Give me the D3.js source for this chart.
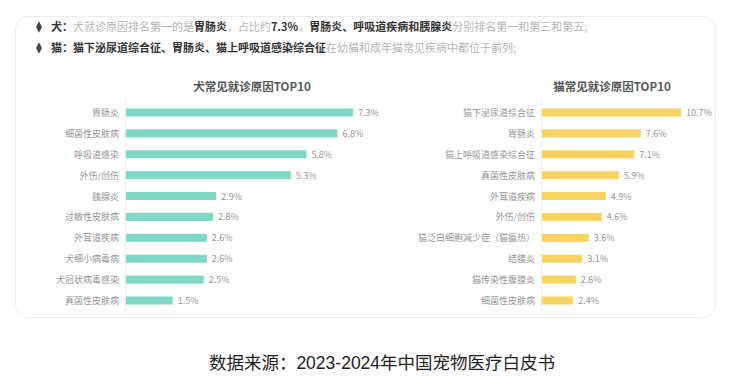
<!DOCTYPE html>
<html><head><meta charset="utf-8">
<script src="https://cdn.jsdelivr.net/npm/d3@7"></script>
<style>
html,body{margin:0;padding:0;background:#fff;}
svg{display:block;font-family:"Noto Sans CJK SC","Noto Sans",sans-serif;}
</style></head>
<body><svg id="c" width="730" height="388"></svg>
<script>
const dogCategories = ["胃肠炎","细菌性皮肤病","呼吸道感染","外伤/创伤","胰腺炎","过敏性皮肤病","外耳道疾病","犬细小病毒病","犬冠状病毒感染","真菌性皮肤病"];
const dogValues = [7.3,6.8,5.8,5.3,2.9,2.8,2.6,2.6,2.5,1.5];
const catCategories = ["猫下泌尿道综合征","胃肠炎","猫上呼吸道感染综合征","真菌性皮肤病","外耳道疾病","外伤/创伤","猫泛白细胞减少症（猫瘟热）","结膜炎","猫传染性腹膜炎","细菌性皮肤病"];
const catValues = [10.7,7.6,7.1,5.9,4.9,4.6,3.6,3.1,2.6,2.4];
const titles = ["犬常见就诊原因TOP10","猫常见就诊原因TOP10"];
const bulletLines = [
  [["犬：",1],["犬就诊原因排名第一的是",0],["胃肠炎",1],["，占比约",0],["7.3%",1],["，",0],["胃肠炎、呼吸道疾病和胰腺炎",1],["分别排名第一和第三和第五;",0]],
  [["猫：",1],["猫下泌尿道综合征、胃肠炎、猫上呼吸道感染综合征",1],["在幼猫和成年猫常见疾病中都位于前列;",0]]
];
const sourceText = "数据来源：2023-2024年中国宠物医疗白皮书";

const svg = d3.select("#c");
// card
svg.append("rect").attr("x",15.5).attr("y",16.5).attr("width",700).attr("height",301)
  .attr("rx",13).attr("fill","#fff").attr("stroke","#ececec");

// bullets
bulletLines.forEach((line,i)=>{
  const y = 31 + i*21;
  svg.append("path").attr("d",d3.symbol(d3.symbolDiamond,30)())
    .attr("transform",`translate(39,${y-4}) scale(1,1.15)`).attr("fill","#444");
  const t = svg.append("text").attr("x",51).attr("y",y).attr("font-size",11);
  line.forEach(([s,b])=>{
    t.append("tspan").text(s).attr("fill",b?"#333":"#b5b5b5").attr("font-weight",b?"bold":"normal");
  });
});

function drawPanel(cats, vals, axisX, maxV, pxPer, color, titleX, title){
  const y = d3.scalePoint().domain(cats).range([112.5,300.5]);
  const x = d3.scaleLinear().domain([0,maxV]).range([axisX, axisX+maxV*pxPer]);
  const g = svg.append("g");
  g.append("text").attr("x",titleX).attr("y",91).attr("text-anchor","middle")
    .attr("font-size",11.5).attr("font-weight","bold").attr("fill","#555").text(title);
  g.append("line").attr("x1",axisX-0.5).attr("x2",axisX-0.5).attr("y1",100).attr("y2",311)
    .attr("stroke","#eeeeee");
  g.selectAll("rect.bar").data(vals).join("rect").attr("class","bar")
    .attr("x",x(0)).attr("y",(d,i)=>y(cats[i])-4).attr("height",8)
    .attr("width",d=>x(d)-x(0)).attr("fill",color);
  g.selectAll("text.cat").data(cats).join("text").attr("class","cat")
    .attr("x",axisX-7).attr("y",d=>y(d)+3.5).attr("text-anchor","end")
    .attr("font-size",9).attr("fill","#959595").text(d=>d);
  g.selectAll("text.val").data(vals).join("text").attr("class","val")
    .attr("x",d=>x(d)+5).attr("y",(d,i)=>y(cats[i])+3.5)
    .attr("font-size",9).attr("fill","#959595").text(d=>d.toFixed(1)+"%");
}
drawPanel(dogCategories, dogValues, 126, 8, 31.1, "#7dd8c6", 252, titles[0]);
drawPanel(catCategories, catValues, 542, 12, 13, "#f8d35f", 612, titles[1]);

svg.append("text").attr("x",382).attr("y",369).attr("text-anchor","middle")
  .attr("font-family","'Liberation Sans','Noto Sans CJK SC',sans-serif")
  .attr("font-size",17.5).attr("fill","#222").text(sourceText);
</script></body></html>
